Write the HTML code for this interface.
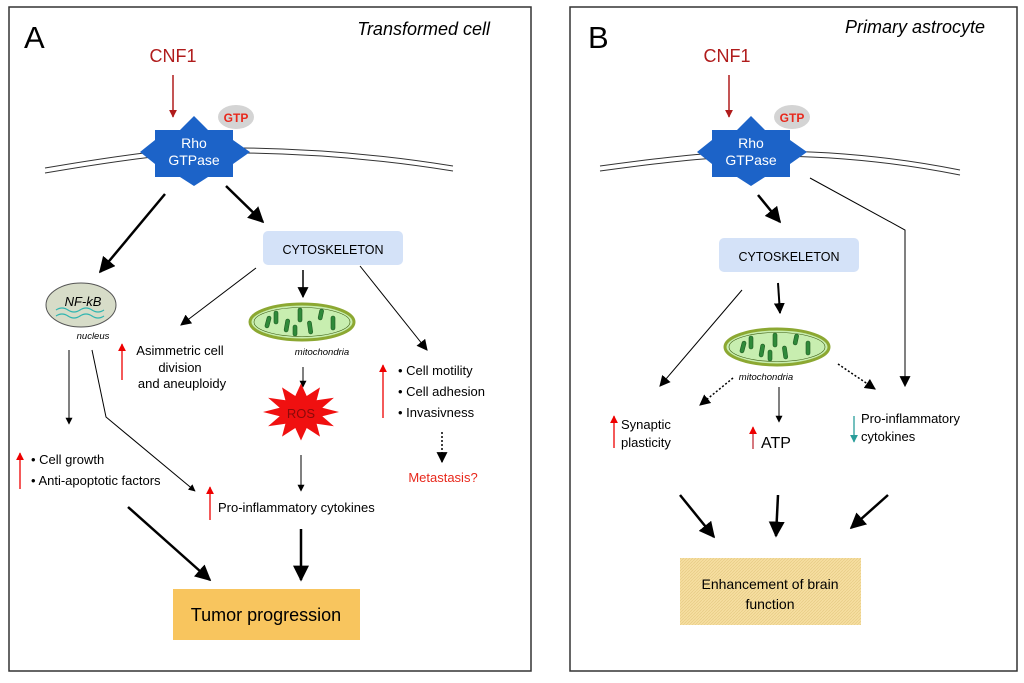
<!DOCTYPE html>
<html><head><meta charset="utf-8"><style>
html,body{margin:0;padding:0;background:#fff;}
svg{display:block;font-family:"Liberation Sans",Arial,sans-serif;}
</style></head><body>
<svg width="1024" height="683" viewBox="0 0 1024 683" xmlns="http://www.w3.org/2000/svg">
<defs>
<marker id="ah" viewBox="0 0 10 10" refX="9" refY="5" markerWidth="7" markerHeight="7" orient="auto" markerUnits="userSpaceOnUse"><path d="M0,0 L10,5 L0,10 z" fill="#000"/></marker>
<marker id="ahb" viewBox="0 0 10 10" refX="9" refY="5" markerWidth="16" markerHeight="16" orient="auto" markerUnits="userSpaceOnUse"><path d="M0,0 L10,5 L0,10 z" fill="#000"/></marker>
<marker id="ahm" viewBox="0 0 10 10" refX="9" refY="5" markerWidth="11" markerHeight="11" orient="auto" markerUnits="userSpaceOnUse"><path d="M0,0 L10,5 L0,10 z" fill="#000"/></marker>
<marker id="ahr" viewBox="0 0 10 10" refX="9" refY="5" markerWidth="8" markerHeight="8" orient="auto" markerUnits="userSpaceOnUse"><path d="M0,0 L10,5 L0,10 z" fill="#e00"/></marker>
<marker id="ahd" viewBox="0 0 10 10" refX="9" refY="5" markerWidth="8" markerHeight="8" orient="auto" markerUnits="userSpaceOnUse"><path d="M0,0 L10,5 L0,10 z" fill="#b01c1c"/></marker>
<marker id="aht" viewBox="0 0 10 10" refX="9" refY="5" markerWidth="8" markerHeight="8" orient="auto" markerUnits="userSpaceOnUse"><path d="M0,0 L10,5 L0,10 z" fill="#2a9d9a"/></marker>
<g id="mito">
<ellipse cx="0" cy="0" rx="52" ry="18" fill="#c8eeb0" stroke="#8ca832" stroke-width="3"/>
<ellipse cx="0" cy="0" rx="48" ry="14.5" fill="none" stroke="#3a5a10" stroke-width="0.6"/>
<g fill="#2f8a3a" stroke="#1f5a22" stroke-width="0.6">
<rect x="-36" y="-6" width="4" height="12" rx="2" transform="rotate(15 -34 0)"/>
<rect x="-28" y="-11" width="4" height="13" rx="2"/>
<rect x="-17" y="-3" width="4" height="13" rx="2" transform="rotate(10 -15 3)"/>
<rect x="-4" y="-14" width="4" height="14" rx="2"/>
<rect x="6" y="-1" width="4" height="13" rx="2" transform="rotate(-8 8 5)"/>
<rect x="17" y="-13" width="4" height="11" rx="2" transform="rotate(12 19 -8)"/>
<rect x="29" y="-6" width="4" height="14" rx="2"/>
<rect x="-9" y="3" width="4" height="11" rx="2"/>
</g>
</g>
<polygon id="rho" points="-39,-22 -14,-22 0,-36 14,-22 39,-22 39,-12 56,0 39,12 39,25 14,25 0,34 -14,25 -39,25 -39,12 -54,0 -39,-12" fill="#1c63c8"/>
<polygon id="ros" fill="#f01010" points="38,0 21.3,5.7 32.9,19 15.6,15.6 19,32.9 5.7,21.3 0,38 -5.7,21.3 -19,32.9 -15.6,15.6 -32.9,19 -21.3,5.7 -38,0 -21.3,-5.7 -32.9,-19 -15.6,-15.6 -19,-32.9 -5.7,-21.3 0,-38 5.7,-21.3 19,-32.9 15.6,-15.6 32.9,-19 21.3,-5.7"/>
<pattern id="hatch" width="3" height="3" patternUnits="userSpaceOnUse"><rect width="3" height="3" fill="#f6dea0"/><path d="M0,3 L3,0" stroke="#e4c880" stroke-width="0.6"/></pattern>
</defs>

<!-- Panel A -->
<rect x="9" y="7" width="522" height="664" fill="#fff" stroke="#333" stroke-width="1.5"/>
<text x="24" y="48" font-size="31">A</text>
<text x="490" y="35" font-size="18" font-style="italic" text-anchor="end">Transformed cell</text>
<text x="173" y="62" font-size="18" fill="#b01c1c" text-anchor="middle">CNF1</text>
<line x1="173" y1="75" x2="173" y2="117" stroke="#b01c1c" stroke-width="1.5" marker-end="url(#ahd)"/>
<path d="M45,168 Q150,150 200,148 Q330,146 453,166" fill="none" stroke="#333" stroke-width="1"/>
<path d="M45,173 Q150,155 200,153 Q330,151 453,171" fill="none" stroke="#333" stroke-width="1"/>
<use href="#rho" x="194" y="152"/>
<text x="194" y="148" font-size="14" fill="#fff" text-anchor="middle">Rho</text>
<text x="194" y="165" font-size="14" fill="#fff" text-anchor="middle">GTPase</text>
<ellipse cx="236" cy="117" rx="18" ry="12" fill="#d4d4d4"/>
<text x="236" y="122" font-size="12" font-weight="bold" fill="#e8281c" text-anchor="middle">GTP</text>
<line x1="165" y1="194" x2="100" y2="272" stroke="#000" stroke-width="2.5" marker-end="url(#ahb)"/>
<line x1="226" y1="186" x2="263" y2="222" stroke="#000" stroke-width="2.5" marker-end="url(#ahb)"/>
<rect x="263" y="231" width="140" height="34" rx="5" fill="#d4e2f8"/>
<text x="333" y="254" font-size="12.5" text-anchor="middle">CYTOSKELETON</text>
<line x1="256" y1="268" x2="181" y2="325" stroke="#000" stroke-width="1" marker-end="url(#ahm)"/>
<line x1="303" y1="270" x2="303" y2="297" stroke="#000" stroke-width="1.5" marker-end="url(#ahm)"/>
<line x1="360" y1="266" x2="427" y2="350" stroke="#000" stroke-width="1" marker-end="url(#ahm)"/>
<ellipse cx="81" cy="305" rx="35" ry="22" fill="#d7dcc8" stroke="#555" stroke-width="1"/>
<path d="M56,310 q6,-4 12,0 t12,0 t12,0 t12,0" fill="none" stroke="#2fb5b0" stroke-width="1.2"/>
<path d="M56,316 q6,-4 12,0 t12,0 t12,0 t12,0" fill="none" stroke="#2fb5b0" stroke-width="1.2"/>
<text x="83" y="306" font-size="13" font-style="italic" text-anchor="middle">NF-kB</text>
<text x="93" y="339" font-size="9.5" font-style="italic" text-anchor="middle">nucleus</text>
<use href="#mito" x="302" y="322"/>
<text x="322" y="355" font-size="9.5" font-style="italic" text-anchor="middle">mitochondria</text>
<line x1="122" y1="380" x2="122" y2="344" stroke="#e00" stroke-width="1.3" marker-end="url(#ahr)"/>
<text x="180" y="355" font-size="13" text-anchor="middle">Asimmetric cell</text>
<text x="180" y="372" font-size="13" text-anchor="middle">division</text>
<text x="182" y="388" font-size="13" text-anchor="middle">and aneuploidy</text>
<line x1="303" y1="367" x2="303" y2="387" stroke="#000" stroke-width="1" marker-end="url(#ah)"/>
<use href="#ros" transform="translate(301,412) scale(1,0.75)"/>
<text x="301" y="418" font-size="13" fill="#8a0a0a" text-anchor="middle">ROS</text>
<line x1="301" y1="455" x2="301" y2="491" stroke="#000" stroke-width="1" marker-end="url(#ah)"/>
<line x1="383" y1="418" x2="383" y2="365" stroke="#e00" stroke-width="1.3" marker-end="url(#ahr)"/>
<text x="398" y="375" font-size="13">• Cell motility</text>
<text x="398" y="396" font-size="13">• Cell adhesion</text>
<text x="398" y="417" font-size="13">• Invasivness</text>
<line x1="442" y1="432" x2="442" y2="462" stroke="#000" stroke-width="1.5" stroke-dasharray="2,2" marker-end="url(#ahm)"/>
<text x="443" y="482" font-size="13" fill="#e8281c" text-anchor="middle">Metastasis?</text>
<line x1="69" y1="350" x2="69" y2="424" stroke="#000" stroke-width="1" marker-end="url(#ah)"/>
<polyline points="92,350 106,417 195,491" fill="none" stroke="#000" stroke-width="1" marker-end="url(#ah)"/>
<line x1="20" y1="489" x2="20" y2="453" stroke="#e00" stroke-width="1.3" marker-end="url(#ahr)"/>
<text x="31" y="464" font-size="13">• Cell growth</text>
<text x="31" y="485" font-size="13">• Anti-apoptotic factors</text>
<line x1="210" y1="520" x2="210" y2="487" stroke="#e00" stroke-width="1.3" marker-end="url(#ahr)"/>
<text x="218" y="512" font-size="13">Pro-inflammatory cytokines</text>
<line x1="128" y1="507" x2="210" y2="580" stroke="#000" stroke-width="2.5" marker-end="url(#ahb)"/>
<line x1="301" y1="529" x2="301" y2="580" stroke="#000" stroke-width="2.5" marker-end="url(#ahb)"/>
<rect x="173" y="589" width="187" height="51" fill="#f8c55e"/>
<text x="266" y="621" font-size="18" text-anchor="middle">Tumor progression</text>

<!-- Panel B -->
<rect x="570" y="7" width="447" height="664" fill="#fff" stroke="#333" stroke-width="1.5"/>
<text x="588" y="48" font-size="31">B</text>
<text x="985" y="33" font-size="18" font-style="italic" text-anchor="end">Primary astrocyte</text>
<text x="727" y="62" font-size="18" fill="#b01c1c" text-anchor="middle">CNF1</text>
<line x1="729" y1="75" x2="729" y2="117" stroke="#b01c1c" stroke-width="1.5" marker-end="url(#ahd)"/>
<path d="M600,166 Q700,152 757,151 Q860,150 960,170" fill="none" stroke="#333" stroke-width="1"/>
<path d="M600,171 Q700,157 757,156 Q860,155 960,175" fill="none" stroke="#333" stroke-width="1"/>
<use href="#rho" x="751" y="152"/>
<text x="751" y="148" font-size="14" fill="#fff" text-anchor="middle">Rho</text>
<text x="751" y="165" font-size="14" fill="#fff" text-anchor="middle">GTPase</text>
<ellipse cx="792" cy="117" rx="18" ry="12" fill="#d4d4d4"/>
<text x="792" y="122" font-size="12" font-weight="bold" fill="#e8281c" text-anchor="middle">GTP</text>
<line x1="758" y1="195" x2="780" y2="222" stroke="#000" stroke-width="2.5" marker-end="url(#ahb)"/>
<polyline points="810,178 905,230 905,386" fill="none" stroke="#000" stroke-width="1" marker-end="url(#ahm)"/>
<rect x="719" y="238" width="140" height="34" rx="5" fill="#d4e2f8"/>
<text x="789" y="261" font-size="12.5" text-anchor="middle">CYTOSKELETON</text>
<line x1="778" y1="283" x2="780" y2="313" stroke="#000" stroke-width="2" marker-end="url(#ahm)"/>
<line x1="742" y1="290" x2="660" y2="386" stroke="#000" stroke-width="1" marker-end="url(#ahm)"/>
<use href="#mito" x="777" y="347"/>
<text x="766" y="380" font-size="9.5" font-style="italic" text-anchor="middle">mitochondria</text>
<line x1="733" y1="378" x2="700" y2="405" stroke="#000" stroke-width="1.5" stroke-dasharray="2,2" marker-end="url(#ahm)"/>
<line x1="838" y1="364" x2="875" y2="389" stroke="#000" stroke-width="1.5" stroke-dasharray="2,2" marker-end="url(#ahm)"/>
<line x1="779" y1="387" x2="779" y2="422" stroke="#000" stroke-width="1" marker-end="url(#ah)"/>
<line x1="614" y1="448" x2="614" y2="416" stroke="#e00" stroke-width="1.3" marker-end="url(#ahr)"/>
<text x="621" y="429" font-size="13">Synaptic</text>
<text x="621" y="447" font-size="13">plasticity</text>
<line x1="753" y1="449" x2="753" y2="427" stroke="#c0303a" stroke-width="1.3" marker-end="url(#ahr)"/>
<text x="761" y="448" font-size="16">ATP</text>
<line x1="854" y1="416" x2="854" y2="442" stroke="#2a9d9a" stroke-width="1.3" marker-end="url(#aht)"/>
<text x="861" y="423" font-size="13">Pro-inflammatory</text>
<text x="861" y="441" font-size="13">cytokines</text>
<line x1="680" y1="495" x2="714" y2="537" stroke="#000" stroke-width="2.5" marker-end="url(#ahb)"/>
<line x1="778" y1="495" x2="776" y2="536" stroke="#000" stroke-width="2.5" marker-end="url(#ahb)"/>
<line x1="888" y1="495" x2="851" y2="528" stroke="#000" stroke-width="2.5" marker-end="url(#ahb)"/>
<rect x="680" y="558" width="181" height="67" fill="url(#hatch)"/>
<text x="770" y="589" font-size="14" text-anchor="middle">Enhancement of brain</text>
<text x="770" y="609" font-size="14" text-anchor="middle">function</text>
</svg>
</body></html>
